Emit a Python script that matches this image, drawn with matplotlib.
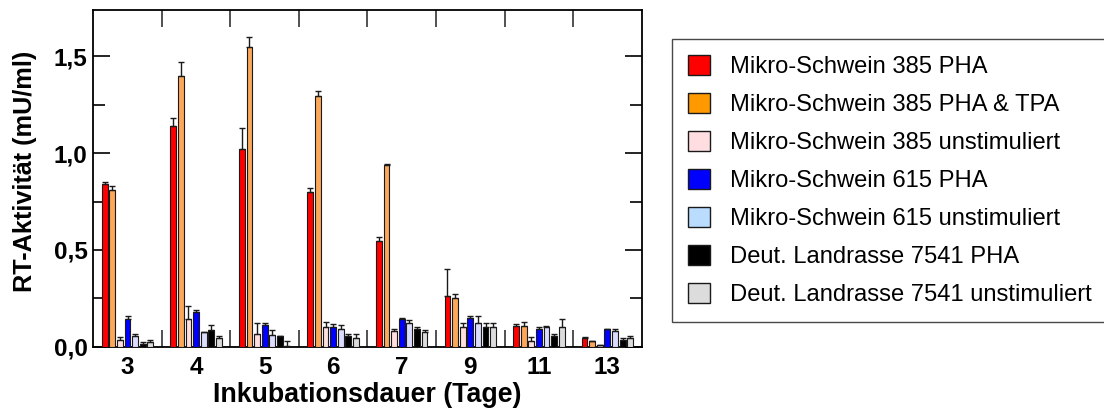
import numpy as np
import matplotlib
matplotlib.use("Agg")
import matplotlib.pyplot as plt
from matplotlib.patches import Patch

plt.rcParams['font.family'] = ['Liberation Sans', 'DejaVu Sans']

# Incubation days and RT activity (mU/ml), mean and upper error per series
days = ["3", "4", "5", "6", "7", "9", "11", "13"]
series_names = ["Mikro-Schwein 385 PHA", "Mikro-Schwein 385 PHA & TPA",
                "Mikro-Schwein 385 unstimuliert", "Mikro-Schwein 615 PHA",
                "Mikro-Schwein 615 unstimuliert", "Deut. Landrasse 7541 PHA",
                "Deut. Landrasse 7541 unstimuliert"]

ms385_pha = [0.84, 1.14, 1.02, 0.80, 0.545, 0.26, 0.105, 0.045]
ms385_pha_err = [0.01, 0.04, 0.11, 0.02, 0.02, 0.14, 0.011, 0.007]
ms385_tpa = [0.81, 1.40, 1.55, 1.295, 0.94, 0.252, 0.109, 0.031]
ms385_tpa_err = [0.02, 0.07, 0.05, 0.025, 0.005, 0.018, 0.019, 0.0]
ms385_unst = [0.033, 0.145, 0.067, 0.10, 0.08, 0.104, 0.031, 0.01]
ms385_unst_err = [0.017, 0.065, 0.053, 0.028, 0.01, 0.016, 0.021, 0.0]
ms615_pha = [0.145, 0.18, 0.114, 0.10, 0.143, 0.148, 0.093, 0.09]
ms615_pha_err = [0.015, 0.01, 0.006, 0.017, 0.005, 0.012, 0.007, 0.003]
ms615_unst = [0.053, 0.074, 0.062, 0.09, 0.12, 0.122, 0.102, 0.083]
ms615_unst_err = [0.013, 0.0, 0.023, 0.024, 0.02, 0.038, 0.007, 0.007]
dl7541_pha = [0.014, 0.085, 0.053, 0.053, 0.093, 0.104, 0.055, 0.035]
dl7541_pha_err = [0.01, 0.029, 0.0, 0.013, 0.011, 0.018, 0.011, 0.01]
dl7541_unst = [0.024, 0.045, 0.005, 0.043, 0.074, 0.104, 0.104, 0.043]
dl7541_unst_err = [0.009, 0.01, 0.025, 0.023, 0.011, 0.018, 0.041, 0.012]

y_ticks = [0.0, 0.5, 1.0, 1.5]
y_tick_labels = ["0,0", "0,5", "1,0", "1,5"]

values = [ms385_pha, ms385_tpa, ms385_unst, ms615_pha, ms615_unst, dl7541_pha, dl7541_unst]
errors = [ms385_pha_err, ms385_tpa_err, ms385_unst_err, ms615_pha_err,
          ms615_unst_err, dl7541_pha_err, dl7541_unst_err]
bar_colors = ["#ff0000", "#fba85a", "#ffdede", "#0000ff", "#dcdcff", "#000000", "#dcdcdc"]
legend_colors = ["#ff0000", "#ff9900", "#ffdde0", "#0000ff", "#b9dcff", "#000000", "#dcdcdc"]

fig = plt.figure(figsize=(11.04, 4.12), dpi=100)
ax = fig.add_axes([0.0845, 0.1585, 0.4967, 0.8172])

x = np.arange(len(days))
pitch = 0.111
width = 0.085
for i, (vals, errs, col) in enumerate(zip(values, errors, bar_colors)):
    pos = x + (i - 3) * pitch
    # grey drop shadow on the right edge of every bar
    ax.bar(pos + 0.014, vals, width, color="#8a8a8a", linewidth=0, zorder=2)
    ax.bar(pos, vals, width, color=col, edgecolor="#1a1a1a", linewidth=0.8, zorder=3)
    ax.errorbar(pos, vals, yerr=[np.zeros(len(vals)), errs], fmt="none",
                ecolor="#1a1a1a", elinewidth=1.0, capsize=2.2, capthick=1.0, zorder=4)

ax.set_xlim(-0.5, len(days) - 0.5)
ax.set_ylim(0, 1.74)

# category labels sit in the middle, ticks mark group boundaries
ax.set_xticks(x)
ax.set_xticklabels(days, fontsize=17.5, fontweight="bold")
ax.set_xticks(np.arange(0.5, len(days) - 1, 1.0), minor=True)
ax.tick_params(axis="x", which="major", length=0, pad=7)
ax.tick_params(axis="x", which="minor", direction="in", length=12, width=1.2,
               top=True, bottom=True, color="#333333")

ax.set_yticks(y_ticks)
ax.set_yticklabels(y_tick_labels, fontsize=17.5, fontweight="bold")
ax.set_yticks([0.25, 0.75, 1.25], minor=True)
ax.tick_params(axis="y", which="major", direction="in", length=12.5, width=1.2,
               left=True, right=True, pad=4)
ax.tick_params(axis="y", which="minor", direction="in", length=8.5, width=1.2,
               left=True, right=True)

for sp in ax.spines.values():
    sp.set_linewidth(1.3)

ax.set_xlabel("Inkubationsdauer (Tage)", fontsize=19.3, fontweight="bold", labelpad=2)
ax.set_ylabel("RT-Aktivität (mU/ml)", fontsize=18.2, fontweight="bold")
ax.yaxis.set_label_coords(-0.102, 0.522)

handles = [Patch(facecolor=c, edgecolor="#1a1a1a", linewidth=1.0) for c in legend_colors]
leg = fig.legend(handles, series_names, loc="upper left",
                 bbox_to_anchor=(0.6087, 0.906), fontsize=17.1,
                 frameon=True, fancybox=False, borderaxespad=0,
                 handlelength=0.93, handleheight=0.93, handletextpad=0.85,
                 labelspacing=0.62, borderpad=0.68)
leg.get_frame().set_edgecolor("#1a1a1a")
leg.get_frame().set_linewidth(1.0)

fig.savefig("out.png", dpi=100)
